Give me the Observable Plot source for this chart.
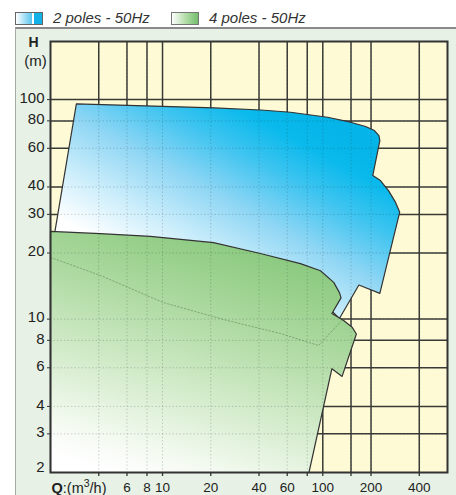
<!DOCTYPE html>
<html>
<head>
<meta charset="utf-8">
<script src="https://cdn.jsdelivr.net/npm/d3@7"></script>
<script src="https://cdn.jsdelivr.net/npm/@observablehq/plot@0.6"></script>
<style>
  body { margin: 0; width: 456px; height: 495px; background: #fff; font-family: "Liberation Sans", Arial, Helvetica, sans-serif; overflow: hidden; }
  #legend { position: relative; height: 27px; }
  .sw { position: absolute; top: 12px; width: 26px; height: 11px; border: 1px solid #666; }
  .lt { position: absolute; top: 9px; font-size: 15px; font-style: italic; color: #333; line-height: 17px; white-space: nowrap; }
  #panel { margin-left: 15px; width: 440px; height: 466px; border-top: 2px solid #8a8a8a; border-left: 1px solid #a4aca4; background: #e7f1e5; }
</style>
</head>
<body>
<svg width="0" height="0" style="position:absolute">
  <defs>
    <linearGradient id="gBlue" x1="0" y1="1" x2="0.8" y2="0.1">
      <stop offset="0" stop-color="#ffffff"/>
      <stop offset="0.3" stop-color="#ffffff"/>
      <stop offset="0.45" stop-color="#cdeefb"/>
      <stop offset="0.62" stop-color="#8fd6f4"/>
      <stop offset="0.78" stop-color="#3ec4f0"/>
      <stop offset="0.9" stop-color="#0bbaec"/>
      <stop offset="1" stop-color="#05b4e8"/>
    </linearGradient>
    <linearGradient id="gGreen" x1="0.2" y1="1" x2="0.6" y2="0">
      <stop offset="0" stop-color="#ffffff"/>
      <stop offset="0.12" stop-color="#f4faf1"/>
      <stop offset="0.4" stop-color="#d0eac7"/>
      <stop offset="0.65" stop-color="#b0dba4"/>
      <stop offset="0.85" stop-color="#98d08b"/>
      <stop offset="1" stop-color="#88c87c"/>
    </linearGradient>
  </defs>
</svg>
<div id="legend">
  <div class="sw" style="left:15px;background:linear-gradient(to right,#ffffff 0%,#5cc6ee 60%,#ffffff 62%,#ffffff 68%,#12b2e8 70%,#12b2e8 100%);"></div>
  <div class="lt" style="left:53px;">2 poles - 50Hz</div>
  <div class="sw" style="left:171px;background:linear-gradient(to right,#ffffff 0%,#b6deab 50%,#74bd6c 100%);border-color:#777;"></div>
  <div class="lt" style="left:209px;">4 poles - 50Hz</div>
</div>
<div id="panel"></div>
<script>
// 2 poles - 50Hz envelope (Q in m3/h, H in m)
const blueQ = [2.9, 10, 21, 41, 63, 107, 149, 185, 210, 224, 227, 205, 229, 257, 284, 302, 227, 168, 127, 84, 35, 8.4, 2.06];
const blueH = [95.7, 93.2, 91.7, 89.7, 87.6, 83.1, 78.9, 75.4, 72.3, 68.6, 65.1, 45.1, 42.8, 38.5, 34.1, 30.7, 13.1, 14.3, 10.06, 13.5, 18.1, 20.5, 21.6];
// 4 poles - 50Hz envelope
const greenQ = [2, 4.1, 8.4, 20.8, 40.8, 72.5, 96.7, 117, 127, 130, 114, 135, 153, 162, 132, 114, 82, 2];
const greenH = [25.1, 24.5, 23.8, 22.3, 19.9, 17.9, 16.6, 14.7, 13.2, 12.5, 10.6, 9.85, 9.15, 8.55, 5.48, 5.94, 2, 2];
// dotted inner curve in 4 poles area
const innerQ = [2, 4.1, 10.1, 25.4, 54.4, 94, 134];
const innerH = [19.1, 15.8, 11.9, 9.85, 8.6, 7.58, 10];
// grid and tick values
const gridQ = [4, 6, 8, 10, 20, 40, 60, 80, 100, 150, 200, 400];
const tickQLabels = [6, 8, 10, 20, 40, 60, 100, 200, 400];
const gridH = [3, 4, 6, 8, 10, 20, 30, 40, 60, 80, 100];
const tickHLabels = [3, 4, 6, 8, 10, 20, 30, 40, 60, 80, 100];
const bottomHLabel = [2];

const blue = blueQ.map((q, i) => ({q, h: blueH[i]}));
const green = greenQ.map((q, i) => ({q, h: greenH[i]}));
const inner = innerQ.map((q, i) => ({q, h: innerH[i]}));

const gridColor = "#3c3c38";
const dotted = {stroke: "#1e2a30", strokeOpacity: 0.2, strokeDasharray: "1.5,2", strokeWidth: 1};

const chart = Plot.plot({
  width: 440,
  height: 466,
  marginTop: 12,
  marginBottom: 23,
  marginLeft: 34,
  marginRight: 9,
  style: {background: "#e7f1e5", fontFamily: "'Liberation Sans', Arial, Helvetica, sans-serif", color: "#222"},
  x: {type: "log", domain: [2, 600], axis: null},
  y: {type: "log", domain: [2, 184], axis: null},
  marks: [
    Plot.frame({fill: "#fffad6"}),
    Plot.ruleX(gridQ, {stroke: gridColor, strokeWidth: 1.5}),
    Plot.ruleY(gridH, {stroke: gridColor, strokeWidth: 1.5}),
    Plot.line(blue, {x: "q", y: "h", curve: "linear-closed", fill: "url(#gBlue)", stroke: "#333", strokeWidth: 1.2}),
    Plot.line(green, {x: "q", y: "h", curve: "linear-closed", fill: "url(#gGreen)", stroke: "#333", strokeWidth: 1.2}),
    Plot.ruleX(gridQ, dotted),
    Plot.ruleY(gridH, dotted),
    Plot.line(inner, {x: "q", y: "h", stroke: "#4a6a40", strokeOpacity: 0.45, strokeDasharray: "1.5,2", strokeWidth: 1}),
    Plot.frame({stroke: "#333", strokeWidth: 2}),
    Plot.axisX(gridQ, {tickSize: 4, tickFormat: () => "", label: null, stroke: "#333", strokeWidth: 1.3}),
    Plot.axisY(gridH, {tickSize: 3, tickFormat: () => "", label: null, stroke: "#333"}),
    Plot.text(tickQLabels, {x: d => d, text: d => String(d), frameAnchor: "bottom", lineAnchor: "top", dy: 10, fontSize: 13.5, fill: "#222"}),
    Plot.text(tickHLabels, {y: d => d, text: d => String(d), frameAnchor: "left", textAnchor: "end", lineAnchor: "middle", dx: -6, dy: -1.5, fontSize: 15, fill: "#222"}),
    Plot.text(bottomHLabel, {y: d => d, text: d => String(d), frameAnchor: "left", textAnchor: "end", lineAnchor: "middle", dx: -6, dy: -5, fontSize: 15, fill: "#222"}),
    Plot.text(["H"], {frameAnchor: "top-left", textAnchor: "middle", lineAnchor: "middle", dx: -17, dy: 1, fontWeight: "bold", fontSize: 14, fill: "#222"}),
    Plot.text(["(m)"], {frameAnchor: "top-left", textAnchor: "middle", lineAnchor: "middle", dx: -15, dy: 20, fontSize: 15, fill: "#222"}),
    Plot.text(["Q:(m3/h)"], {frameAnchor: "bottom-left", textAnchor: "start", lineAnchor: "top", dx: 1, dy: 10, fontSize: 14.5, fill: "#222"})
  ]
});

document.getElementById("panel").appendChild(chart);

// rich formatting of the Q axis title (bold Q, superscript 3)
d3.select(chart).selectAll("text").filter(function() { return this.textContent === "Q:(m3/h)"; }).each(function() {
  const t = d3.select(this);
  t.text(null);
  t.append("tspan").attr("font-weight", "bold").text("Q");
  t.append("tspan").text(":(m");
  t.append("tspan").attr("dy", "-6").attr("font-size", "10.5").text("3");
  t.append("tspan").attr("dy", "6").text("/h)");
});
</script>
</body>
</html>
